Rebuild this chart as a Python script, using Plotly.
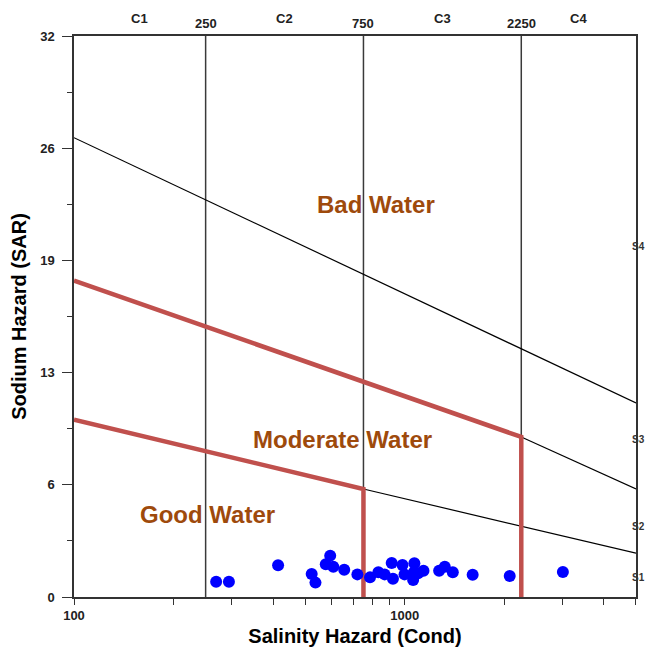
import math
import plotly.graph_objects as go

# sample points
ec = [269, 294, 414, 523, 537, 595, 577, 608, 656, 719, 785, 832, 869, 913,
      921, 984, 998, 1069, 1067, 1060, 1139, 1097, 1270, 1321, 1397, 1604, 2076, 3006]
sar = [0.87, 0.87, 1.81, 1.31, 0.82, 2.36, 1.87, 1.73, 1.56, 1.29, 1.12, 1.41, 1.29, 1.94,
       1.04, 1.83, 1.29, 1.92, 1.43, 0.97, 1.50, 1.35, 1.50, 1.73, 1.41, 1.27, 1.20, 1.43]

# classification lines
class_ec = [250, 750, 2250]
s4_line_ec, s4_line_sar = [100, 5000], [26.2, 11.07]
s3_line_ec, s3_line_sar = [2250, 5000], [9.13, 6.16]
s2_line_ec, s2_line_sar = [750, 5000], [6.16, 2.5]
moderate_ec, moderate_sar = [100, 2250, 2250], [18.05, 9.13, 0]
good_ec, good_sar = [100, 750, 750], [10.12, 6.16, 0]

zone_labels = ['Bad Water', 'Moderate Water', 'Good Water']
zone_ec = [817, 649, 253]
zone_sar = [22.4, 8.96, 4.68]

c_labels = ['C1', 'C2', 'C3', 'C4']
c_pos = [158, 433, 1299, 3354]
s_labels = ['S1', 'S2', 'S3', 'S4']
s_pos = [1.1, 4.05, 9.0, 20.0]

y_major = [0, 6.4, 12.8, 19.2, 25.6, 32]
y_text = ['0', '6', '13', '19', '26', '32']
y_minor = [3.2, 9.6, 16.0, 22.4, 28.8]
x_minor = [200, 300, 400, 500, 600, 700, 800, 900, 2000, 3000, 4000, 5000]

fig = go.Figure()
for c in class_ec:
    fig.add_trace(go.Scatter(x=[c, c], y=[0, 32], mode='lines',
                             line=dict(color='#3a3a3a', width=1.5), hoverinfo='skip'))
for xs, ys in [(s4_line_ec, s4_line_sar), (s3_line_ec, s3_line_sar), (s2_line_ec, s2_line_sar)]:
    fig.add_trace(go.Scatter(x=xs, y=ys, mode='lines',
                             line=dict(color='black', width=1.2), hoverinfo='skip'))
for xs, ys in [(moderate_ec, moderate_sar), (good_ec, good_sar)]:
    fig.add_trace(go.Scatter(x=xs, y=ys, mode='lines',
                             line=dict(color='#C0504D', width=4.5)))
fig.add_trace(go.Scatter(x=ec, y=sar, mode='markers',
                         marker=dict(color='blue', size=12)))

anns = []
brown = '#9E4A0C'
for txt, x, y in zip(zone_labels, zone_ec, zone_sar):
    anns.append(dict(x=math.log10(x), y=y, xref='x', yref='y', text='<b>%s</b>' % txt,
                     showarrow=False, font=dict(size=24, color=brown)))
for lab, p in zip(c_labels, c_pos):
    anns.append(dict(x=math.log10(p), y=1, xref='x', yref='paper', yanchor='bottom', yshift=8,
                     text='<b>%s</b>' % lab, showarrow=False, font=dict(size=13, color='#222')))
for c in class_ec:
    anns.append(dict(x=math.log10(c), y=1, xref='x', yref='paper', yanchor='bottom', yshift=3,
                     text='<b>%d</b>' % c, showarrow=False, font=dict(size=13, color='#222')))
for lab, p in zip(s_labels, s_pos):
    anns.append(dict(x=1, y=p, xref='paper', yref='y', xanchor='right', xshift=11,
                     text='<b>%s</b>' % lab, showarrow=False, font=dict(size=10, color='#333')))

# page body has an 8px margin, so the figure is sized to the remaining viewport
fig.update_layout(
    width=640, height=639, showlegend=False,
    margin=dict(l=66, r=12, t=28, b=50),
    plot_bgcolor='white', paper_bgcolor='white',
    font=dict(family='Liberation Sans, Arial', color='#222'),
    annotations=anns,
    xaxis=dict(type='log', range=[2, 3.699], showgrid=False, zeroline=False, automargin=False,
               showline=True, linecolor='#333', linewidth=1.5, mirror=True,
               ticks='outside', ticklen=6, tickcolor='#333',
               tickvals=[100, 1000], ticktext=['<b>100</b>', '<b>1000</b>'],
               tickfont=dict(size=13),
               minor=dict(tickvals=x_minor, ticks='outside', ticklen=6, tickcolor='#333'),
               title=dict(text='<b>Salinity Hazard (Cond)</b>', font=dict(size=20, color='black'),
                          standoff=12)),
    yaxis=dict(range=[0, 32], showgrid=False, zeroline=False, automargin=False,
               showline=True, linecolor='#333', linewidth=1.5, mirror=True,
               ticks='outside', ticklen=10, tickcolor='#333', ticklabelstandoff=5,
               tickvals=y_major, ticktext=['<b>%s</b>' % t for t in y_text],
               tickfont=dict(size=13),
               minor=dict(tickvals=y_minor, ticks='outside', ticklen=5, tickcolor='#333'),
               title=dict(text='<b>Sodium Hazard (SAR)</b>', font=dict(size=20, color='black'),
                          standoff=8)),
)

fig.write_html("out.html")
